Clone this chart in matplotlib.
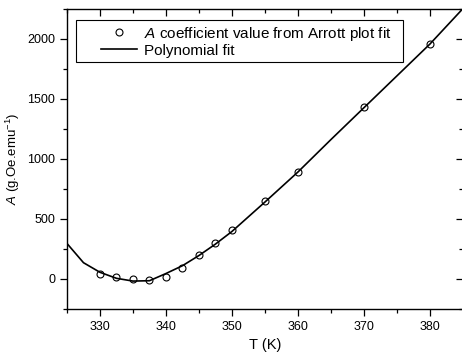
import matplotlib
matplotlib.use('Agg')
import matplotlib.pyplot as plt
from matplotlib.patches import Rectangle
from matplotlib.ticker import MultipleLocator

plt.rcParams['font.family'] = ['Liberation Sans', 'DejaVu Sans']
plt.rcParams['mathtext.fontset'] = 'custom'
plt.rcParams['mathtext.rm'] = 'Liberation Sans'
plt.rcParams['mathtext.it'] = 'Liberation Sans:italic'

# A coefficient from Arrott plot fit
temp = [330, 332.5, 335, 337.5, 340, 342.5, 345, 347.5, 350, 355, 360, 370, 380]
coef_a = [40, 18, -4, -7, 15, 95, 203, 297, 403, 652, 893, 1433, 1953]

# polynomial fit, as drawn
fit_t = [325, 327.5, 330, 332.5, 335, 337.5, 340, 342.5, 345, 347.5, 350,
         355, 360, 365, 370, 375, 380, 385]
fit_a = [295, 135, 55, 5, -18, -15, 45, 110, 195, 290, 395,
         640, 890, 1160, 1425, 1690, 1955, 2250]

fig = plt.figure(figsize=(4.62, 3.58), dpi=100)
ax = fig.add_axes([0.145, 0.137, 0.857, 0.839])

ax.plot(temp, coef_a, 'o', mfc='none', mec='black', ms=5, mew=0.8,
        label=r'$\it{A}$ coefficient value from Arrott plot fit')
ax.plot(fit_t, fit_a, '-', color='black', lw=1.2, label='Polynomial fit')

ax.set_xlim(325, 385)
ax.set_ylim(-250, 2250)
ax.xaxis.set_major_locator(MultipleLocator(10))
ax.xaxis.set_minor_locator(MultipleLocator(5))
ax.yaxis.set_major_locator(MultipleLocator(500))
ax.yaxis.set_minor_locator(MultipleLocator(250))

ax.tick_params(which='both', top=True, right=True, labelsize=9, width=0.9)
ax.tick_params(which='major', length=5)
ax.tick_params(which='minor', length=3)
ax.tick_params(axis='x', which='both', direction='out')
ax.tick_params(axis='y', which='both', direction='out')
# top and right ticks point into the plot
for t in ax.xaxis.get_major_ticks() + ax.xaxis.get_minor_ticks():
    t.tick2line.set_marker(matplotlib.lines.TICKDOWN)
for t in ax.yaxis.get_major_ticks() + ax.yaxis.get_minor_ticks():
    t.tick2line.set_marker(matplotlib.lines.TICKLEFT)
ax.spines['right'].set_visible(False)
for s in ['left', 'bottom', 'top']:
    ax.spines[s].set_linewidth(1.0)

ax.set_xlabel('T (K)', fontsize=10.5, labelpad=4)
ax.set_ylabel(r'$\it{A}$ (g.Oe.emu$^{-1}$)', fontsize=9.5)

# legend box is wider than its contents, so draw the frame by hand
ax.add_patch(Rectangle((0.0227, 0.822), 0.825, 0.14, transform=ax.transAxes,
                       fill=False, edgecolor='black', lw=0.8, zorder=5))
ax.legend(loc='upper left', bbox_to_anchor=(0.085, 0.946), fontsize=11,
          frameon=False, handlelength=2.4, borderpad=0, labelspacing=0.05,
          handletextpad=0.45, borderaxespad=0)

fig.savefig('out.png', dpi=100)
